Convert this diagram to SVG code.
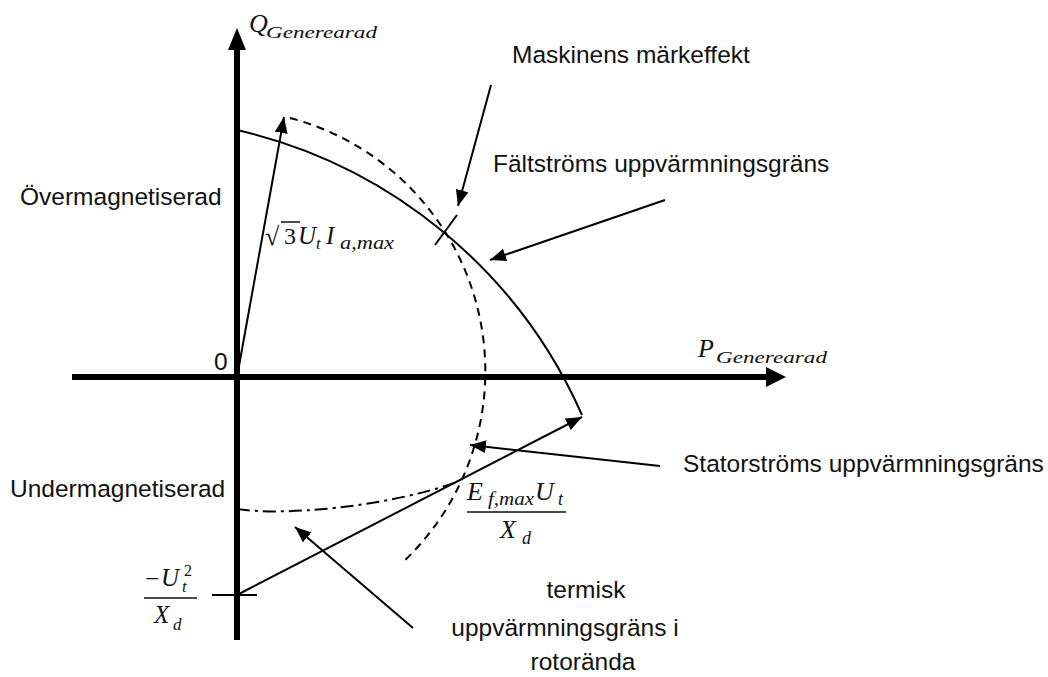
<svg xmlns="http://www.w3.org/2000/svg" width="1048" height="677" viewBox="0 0 1048 677">
<style>
.lbl{font-family:"Liberation Sans",Arial,sans-serif;font-size:24.5px;fill:#111}
.m{font-family:"Liberation Serif","Times New Roman",serif;font-style:italic;fill:#111}
.thin{stroke:#000;stroke-width:2;fill:none}
.axis{stroke:#000;stroke-width:6;fill:none}
</style>
<defs>
<marker id="ah" viewBox="0 0 16 13" refX="16" refY="6.5" markerWidth="16" markerHeight="13" markerUnits="userSpaceOnUse" orient="auto">
<path d="M0,0 L16,6.5 L0,13 z" fill="#000"/>
</marker>
</defs>
<rect width="1048" height="677" fill="#fff"/>

<g id="axes">
<line class="axis" x1="237" y1="46" x2="237" y2="640"/>
<polygon points="237,28 228,50 246,50" fill="#000"/>
<line class="axis" x1="72" y1="377" x2="768" y2="377"/>
<polygon points="786,377 766,367 766,387" fill="#000"/>
</g>

<g id="curves">
<path id="field-limit" class="thin" d="M237,130 A500,500 0 0,1 582,415"/>
<path id="stator-limit" class="thin" stroke-dasharray="8,6" d="M290,118 A262,262 0 0,1 402,563"/>
<path id="rotor-end-limit" class="thin" stroke-dasharray="13,5,3,5" d="M237,509 C280,516 385,508 460,481"/>
<line class="thin" x1="212" y1="595" x2="257" y2="595"/>
<line class="thin" x1="435" y1="245" x2="457" y2="215"/>
</g>

<g id="connectors">
<line class="thin" x1="237" y1="377" x2="284" y2="117" marker-end="url(#ah)"/>
<line class="thin" x1="237" y1="595" x2="582" y2="417" marker-end="url(#ah)"/>
<line class="thin" x1="491" y1="85" x2="458" y2="206" marker-end="url(#ah)"/>
<line class="thin" x1="665" y1="200" x2="490" y2="260" marker-end="url(#ah)"/>
<line class="thin" x1="660" y1="466" x2="470" y2="445" marker-end="url(#ah)"/>
<line class="thin" x1="413" y1="628" x2="295" y2="527" marker-end="url(#ah)"/>
</g>

<g id="q-axis-label">
<text class="m" x="249" y="32" font-size="26">Q</text>
<text class="m" x="266" y="38" font-size="17" textLength="111" lengthAdjust="spacingAndGlyphs">Generearad</text>
</g>
<g id="p-axis-label">
<text class="m" x="698" y="357" font-size="26">P</text>
<text class="m" x="716" y="363" font-size="17" textLength="111" lengthAdjust="spacingAndGlyphs">Generearad</text>
</g>
<g id="origin-label"><text class="lbl" x="214" y="370">0</text></g>

<g id="label-maskinens"><text class="lbl" x="512" y="63">Maskinens märkeffekt</text></g>
<g id="label-faltstroms"><text class="lbl" x="493" y="172">Fältströms uppvärmningsgräns</text></g>
<g id="label-over"><text class="lbl" x="20" y="205">Övermagnetiserad</text></g>
<g id="label-under"><text class="lbl" x="10" y="497">Undermagnetiserad</text></g>
<g id="label-stator"><text class="lbl" x="683" y="472">Statorströms uppvärmningsgräns</text></g>
<g id="label-termisk" text-anchor="middle">
<text class="lbl" x="586" y="598">termisk</text>
<text class="lbl" x="565" y="636">uppvärmningsgräns i</text>
<text class="lbl" x="583" y="670">rotorända</text>
</g>

<g id="label-stator-vector">
<text x="265" y="245" font-family="Liberation Serif,serif" font-size="26" fill="#111">√</text>
<line x1="281" y1="222" x2="300" y2="222" stroke="#111" stroke-width="1.5"/>
<text x="284" y="244" font-family="Liberation Serif,serif" font-size="24" fill="#111">3</text>
<text class="m" x="298" y="244" font-size="25">U</text>
<text class="m" x="316" y="249" font-size="17">t</text>
<text class="m" x="326" y="244" font-size="25">I</text>
<text class="m" x="340" y="249" font-size="18" textLength="54" lengthAdjust="spacingAndGlyphs">a,max</text>
</g>

<g id="label-ef">
<text class="m" x="467" y="500" font-size="26">E</text>
<text class="m" x="488" y="505" font-size="18" textLength="46" lengthAdjust="spacingAndGlyphs">f,max</text>
<text class="m" x="535" y="500" font-size="26">U</text>
<text class="m" x="558" y="505" font-size="18">t</text>
<line x1="467" y1="512" x2="566" y2="512" stroke="#111" stroke-width="1.5"/>
<text class="m" x="500" y="538" font-size="26">X</text>
<text class="m" x="522" y="544" font-size="18">d</text>
</g>

<g id="label-ut2">
<text x="145" y="587" font-family="Liberation Serif,serif" font-size="25" fill="#111">−</text>
<text class="m" x="161" y="586" font-size="25">U</text>
<text class="m" x="182" y="592" font-size="17">t</text>
<text x="184" y="576" font-family="Liberation Serif,serif" font-size="16" fill="#111">2</text>
<line x1="144" y1="598" x2="197" y2="598" stroke="#111" stroke-width="1.5"/>
<text class="m" x="154" y="623" font-size="25">X</text>
<text class="m" x="173" y="630" font-size="17">d</text>
</g>
</svg>
